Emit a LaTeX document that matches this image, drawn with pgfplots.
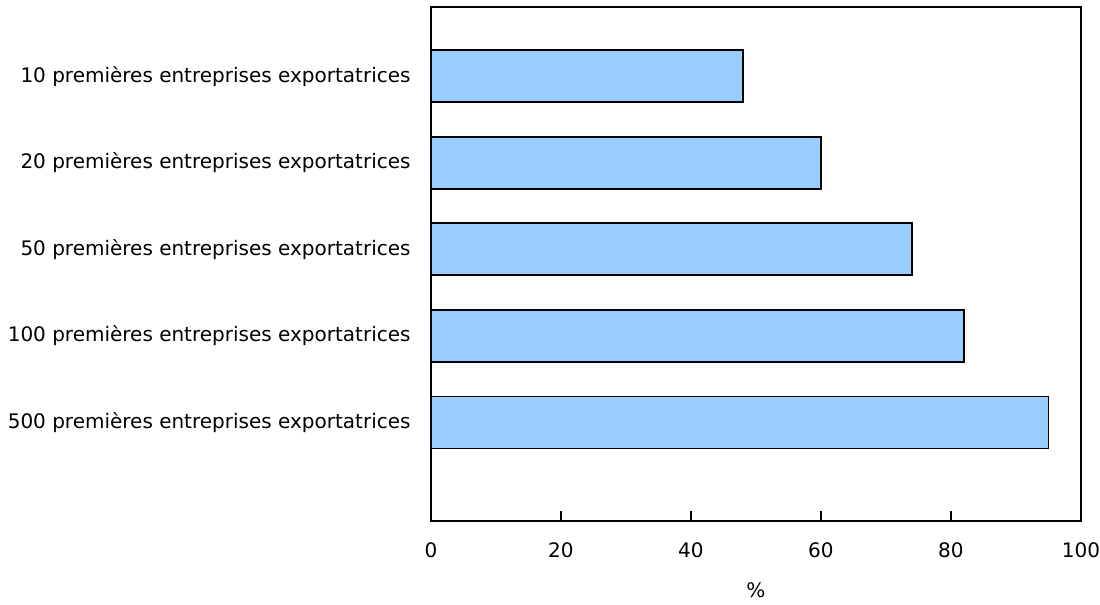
\documentclass[border=0pt]{standalone}
\usepackage{pgfplots}
\pgfplotsset{compat=1.18}
\usepackage{fontspec}
\setmainfont{DejaVu Sans}
\definecolor{barblue}{HTML}{99CCFF}

\begin{document}
\fontsize{10}{12}\selectfont
\begin{tikzpicture}
\begin{axis}[
    name=main,
    scale only axis,
    width=325pt,
    height=257pt,
    xbar,
    bar width=26pt,
    xmin=0, xmax=100,
    ymin=0.2, ymax=6.14,
    y dir=reverse,
    xtick={0,20,40,60,80,100},
    ytick={1,2,3,4,5},
    yticklabels={10 premières entreprises exportatrices,
                 20 premières entreprises exportatrices,
                 50 premières entreprises exportatrices,
                 100 premières entreprises exportatrices,
                 500 premières entreprises exportatrices},
    xtick pos=bottom,
    xtick align=inside,
    major tick length=5pt,
    y tick style={draw=none},
    axis line style={line width=0.6pt},
    x tick style={line width=0.6pt, black},
    yticklabel style={anchor=east, inner sep=0pt, xshift=-5pt},
    xticklabel style={anchor=north, inner sep=0pt, yshift=-10.5pt},
    /pgf/number format/assume math mode=true,
    xlabel={\%},
    xlabel style={at={(axis description cs:0.5,0)}, anchor=center, yshift=-34.5pt},
    ]
    \addplot[fill=barblue, draw=black, line width=0.8pt] coordinates {
        (48,1)
        (60,2)
        (74,3)
        (82,4)
        (95,5)
    };
\end{axis}
\path (main.south west) ++(-215.5pt,-38.5pt) rectangle ++(550pt,299pt);
\end{tikzpicture}
\end{document}
